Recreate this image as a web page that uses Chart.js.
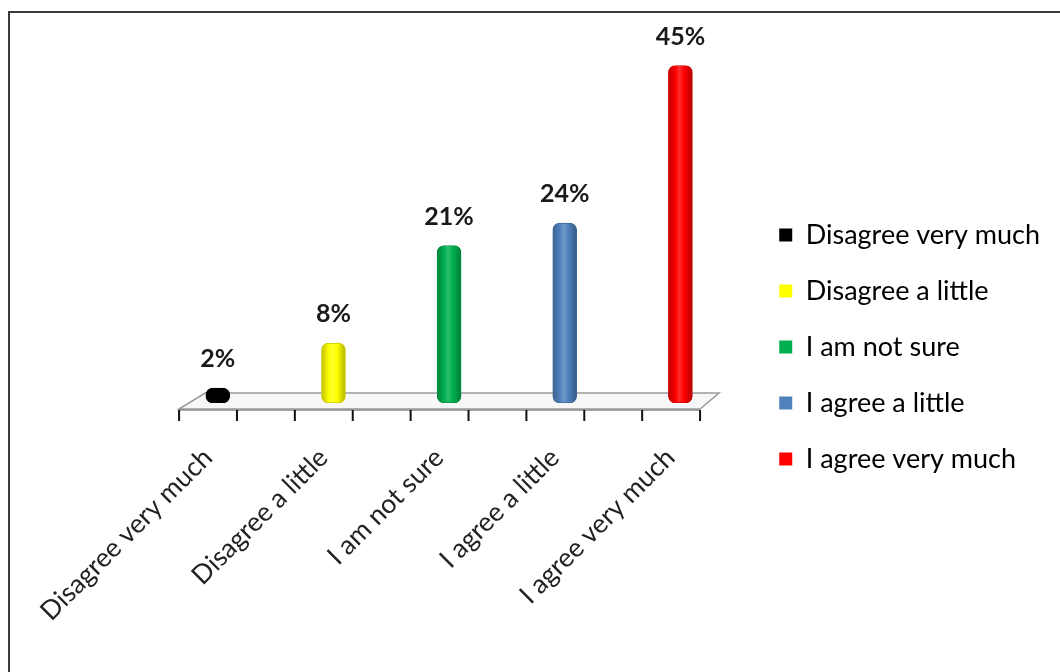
<!DOCTYPE html>
<html>
<head>
<meta charset="utf-8">
<script src="https://cdn.jsdelivr.net/npm/chart.js@4.4.1/dist/chart.umd.min.js"></script>
<style>
  html, body { margin: 0; padding: 0; background: #fff; }
  #wrap { position: relative; width: 1060px; height: 672px; overflow: hidden; }
  #frame { position: absolute; left: 8px; top: 11px; width: 1100px; height: 700px;
           border-left: 2px solid #3a3a3a; border-top: 2px solid #3a3a3a; box-sizing: border-box; }
  canvas { position: absolute; left: 0; top: 0; }
</style>
</head>
<body>
<div id="wrap">
  <div id="frame"></div>
  <canvas id="c" width="1060" height="672"></canvas>
</div>
<script>
// ---- data ----
const categories = ["Disagree very much", "Disagree a little", "I am not sure", "I agree a little", "I agree very much"];
const percentValues = [2, 8, 21, 24, 45];
const barColors = ["#000000", "#FFFF00", "#00B050", "#4F81BD", "#FF0000"];
const yTicks = [0, 10, 20, 30, 40, 50];

const FONT = "Lato, 'Liberation Sans', sans-serif";

function shade(hex, f) {
  const n = parseInt(hex.slice(1), 16);
  let r = (n >> 16) & 255, g = (n >> 8) & 255, b = n & 255;
  if (f < 0) { r = Math.round(r * (1 + f)); g = Math.round(g * (1 + f)); b = Math.round(b * (1 + f)); }
  else { r = Math.round(r + (255 - r) * f); g = Math.round(g + (255 - g) * f); b = Math.round(b + (255 - b) * f); }
  return `rgb(${r},${g},${b})`;
}

// floor + ticks, drawn before bars
const floorPlugin = {
  id: 'floor',
  beforeDatasetsDraw(chart) {
    const { ctx, scales: { x, y } } = chart;
    const base = y.getPixelForValue(0);
    const step = x.getPixelForValue(1) - x.getPixelForValue(0);
    const fl = x.getPixelForValue(0) - step * 0.335;   // front-left
    const fr = x.getPixelForValue(4) + step * 0.17;    // front-right
    const depthX = 26, frontY = base + 6, backY = base - 10;
    ctx.save();
    ctx.beginPath();
    ctx.moveTo(fl, frontY);
    ctx.lineTo(fl + depthX, backY);
    ctx.lineTo(fr + depthX - 7, backY);
    ctx.lineTo(fr, frontY);
    ctx.closePath();
    ctx.fillStyle = '#f7f7f7';
    ctx.fill();
    ctx.strokeStyle = '#9a9a9a';
    ctx.lineWidth = 1.5;
    ctx.stroke();
    ctx.beginPath();
    ctx.moveTo(fl, frontY + 1);
    ctx.lineTo(fr, frontY + 1);
    ctx.strokeStyle = '#8a8a8a';
    ctx.lineWidth = 1.5;
    ctx.stroke();
    // tick marks: one every half category along the front edge
    const n = categories.length * 2;
    ctx.strokeStyle = '#111';
    ctx.lineWidth = 2;
    for (let k = 0; k < n; k++) {
      const tx = fl + (fr - fl) * k / (n - 1);
      ctx.beginPath();
      ctx.moveTo(tx, frontY + 1);
      ctx.lineTo(tx, frontY + 12);
      ctx.stroke();
    }
    // cylinder shading on bars
    const meta = chart.getDatasetMeta(0);
    meta.data.forEach((el, i) => {
      const w = el.width;
      const g = ctx.createLinearGradient(el.x - w / 2, 0, el.x + w / 2, 0);
      const c = barColors[i];
      g.addColorStop(0, shade(c, -0.25));
      g.addColorStop(0.3, c);
      g.addColorStop(0.45, shade(c, 0.18));
      g.addColorStop(0.65, c);
      g.addColorStop(1, shade(c, -0.3));
      el.options.backgroundColor = i === 0 ? '#000' : g;
    });
    ctx.restore();
  }
};

// value labels
const valueLabels = {
  id: 'valueLabels',
  afterDatasetsDraw(chart) {
    const { ctx } = chart;
    const meta = chart.getDatasetMeta(0);
    ctx.save();
    ctx.font = `bold 25px ${FONT}`;
    ctx.fillStyle = '#1a1a1a';
    ctx.textAlign = 'center';
    ctx.textBaseline = 'middle';
    meta.data.forEach((el, i) => {
      ctx.fillText(percentValues[i] + '%', el.x, el.y - 29);
    });
    ctx.restore();
  }
};

new Chart(document.getElementById('c'), {
  type: 'bar',
  data: {
    labels: categories,
    datasets: [{
      data: percentValues,
      backgroundColor: barColors,
      borderColor: barColors.map(c => shade(c, -0.2)),
      borderWidth: 1,
      borderRadius: 7,
      borderSkipped: false,
      barThickness: 24
    }]
  },
  options: {
    responsive: false,
    animation: false,
    events: [],
    layout: { padding: { left: 160, top: 28, right: 10, bottom: 6 } },
    plugins: {
      tooltip: { enabled: false },
      legend: {
        position: 'right',
        maxWidth: 330,
        labels: {
          font: { family: FONT, size: 27 },
          color: '#222',
          boxWidth: 13,
          boxHeight: 13,
          padding: 29,
          generateLabels: (chart) => categories.map((c, i) => ({
            text: c, fillStyle: barColors[i], strokeStyle: barColors[i], lineWidth: 0, index: i
          }))
        }
      }
    },
    scales: {
      x: {
        grid: { display: false, drawTicks: false },
        border: { display: false },
        ticks: {
          minRotation: 45, maxRotation: 45, autoSkip: false,
          padding: 39,
          labelOffset: -10,
          color: '#222',
          font: { family: FONT, size: 26.5 }
        },
        afterFit: (s) => { s.height = 263; }
      },
      y: {
        display: false,
        min: 0, max: yTicks[yTicks.length - 1],
        afterBuildTicks: (s) => { s.ticks = yTicks.map(v => ({ value: v })); }
      },
      gap: {
        type: 'linear', position: 'right', display: true,
        grid: { display: false }, border: { display: false },
        ticks: { display: false },
        afterFit: (s) => { s.width = 12; }
      }
    }
  },
  plugins: [floorPlugin, valueLabels]
});
</script>
</body>
</html>
